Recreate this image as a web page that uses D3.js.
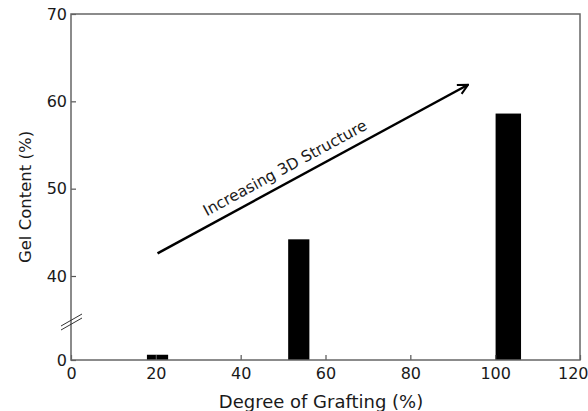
<!DOCTYPE html>
<html>
<head>
<meta charset="utf-8">
<script src="https://cdn.jsdelivr.net/npm/d3@7"></script>
<style>
  body { margin: 0; background: #fff; }
  text { font-family: "DejaVu Sans", Arial, sans-serif; fill: #1a1a1a; }
</style>
</head>
<body>
<div id="chart"></div>
<script>
// Data
const grafting = [20.4, 53.7, 103.1];      // bar centres, degree of grafting (%)
const barWidths = [5, 5, 6];               // bar widths in % grafting units
const gelContent = [2.5, 44.2, 58.6];      // gel content (%)
const xTicks = [0, 20, 40, 60, 80, 100, 120];
const yTicks = [0, 40, 50, 60, 70];
const arrowFrom = [20.4, 42.6];            // [grafting, gel]
const arrowTo = [93.6, 61.9];
const arrowLabel = 'Increasing 3D Structure';

const width = 588, height = 411;
const margin = { top: 14, right: 8, bottom: 51, left: 71 };
const innerW = width - margin.left - margin.right;
const innerH = height - margin.top - margin.bottom;

const svg = d3.select('#chart')
  .append('svg')
  .attr('width', width)
  .attr('height', height);

const g = svg.append('g')
  .attr('transform', `translate(${margin.left},${margin.top})`);

const x = d3.scaleLinear().domain([0, 120]).range([0, innerW]);
// broken axis: 0..40 squeezed into the bottom strip
const y = d3.scaleLinear().domain([0, 40, 70]).range([innerH, innerH - 84, 0]);

// bars
g.selectAll('.bar')
  .data(grafting)
  .enter()
  .append('rect')
  .attr('class', 'bar')
  .attr('x', (d, i) => x(d - barWidths[i] / 2))
  .attr('width', (d, i) => x(barWidths[i]) - x(0))
  .attr('y', (d, i) => y(gelContent[i]))
  .attr('height', (d, i) => y(0) - y(gelContent[i]))
  .attr('fill', '#000');

// axes, ticks pointing inward
const xAxis = g.append('g')
  .attr('transform', `translate(0,${innerH})`)
  .call(d3.axisBottom(x).tickValues(xTicks).tickSizeInner(-5).tickSizeOuter(0).tickPadding(6));

const yAxis = g.append('g')
  .call(d3.axisLeft(y).tickValues(yTicks).tickSizeInner(-5).tickSizeOuter(0).tickPadding(4));

[xAxis, yAxis].forEach(ax => {
  ax.select('.domain').remove();
  ax.selectAll('line').attr('stroke', '#555').attr('stroke-width', 1.2);
  ax.selectAll('text')
    .style('font-size', '16px')
    .attr('fill', '#1a1a1a');
});
xAxis.selectAll('text').attr('dy', '0.82em');
// last label is pulled in so it stays on the page
xAxis.selectAll('.tick text').filter(d => d === 120)
  .attr('text-anchor', 'end')
  .attr('x', 8);

// frame
g.append('rect')
  .attr('width', innerW)
  .attr('height', innerH)
  .attr('fill', 'none')
  .attr('stroke', '#666')
  .attr('stroke-width', 1.5);

// axis break marks
const breakY = y(0) - 36;
[0, -4].forEach(off => {
  g.append('line')
    .attr('x1', -10).attr('y1', breakY + off + 6)
    .attr('x2', 11).attr('y2', breakY + off - 6)
    .attr('stroke', '#333')
    .attr('stroke-width', 1);
});

// arrow
svg.append('defs').append('marker')
  .attr('id', 'head')
  .attr('viewBox', '0 0 10 10')
  .attr('refX', 9).attr('refY', 5)
  .attr('markerWidth', 5).attr('markerHeight', 5)
  .attr('orient', 'auto')
  .append('path')
  .attr('d', 'M1,1 L9,5 L1,9')
  .attr('fill', 'none')
  .attr('stroke', '#000')
  .attr('stroke-width', 1.6);

const ax1 = x(arrowFrom[0]), ay1 = y(arrowFrom[1]);
const ax2 = x(arrowTo[0]), ay2 = y(arrowTo[1]);
g.append('line')
  .attr('x1', ax1).attr('y1', ay1)
  .attr('x2', ax2).attr('y2', ay2)
  .attr('stroke', '#000')
  .attr('stroke-width', 2.5)
  .attr('marker-end', 'url(#head)');

const angle = Math.atan2(ay2 - ay1, ax2 - ax1) * 180 / Math.PI;
const mx = (ax1 + ax2) / 2, my = (ay1 + ay2) / 2;
g.append('text')
  .attr('transform', `translate(${mx},${my}) rotate(${angle}) translate(-24,-9)`)
  .attr('text-anchor', 'middle')
  .style('font-size', '15.5px')
  .text(arrowLabel);

// axis titles
svg.append('text')
  .attr('x', 321)
  .attr('y', 408)
  .attr('text-anchor', 'middle')
  .style('font-size', '18px')
  .text('Degree of Grafting (%)');

svg.append('text')
  .attr('transform', `translate(31,197) rotate(-90)`)
  .attr('text-anchor', 'middle')
  .style('font-size', '16.5px')
  .text('Gel Content (%)');
</script>
</body>
</html>
